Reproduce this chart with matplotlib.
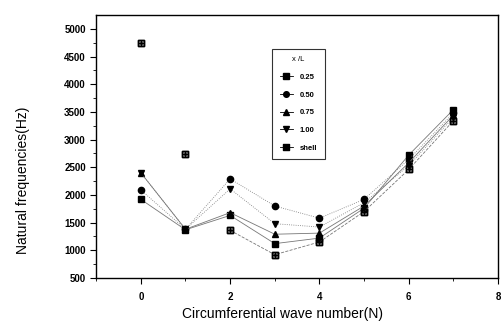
import numpy as np
import matplotlib
matplotlib.use("Agg")
import matplotlib.pyplot as plt

# circumferential wave number
N = [0, 1, 2, 3, 4, 5, 6, 7]

# natural frequencies (Hz) for each x/L position
f_025 = [1920, 1370, 1630, 1120, 1220, 1760, 2720, 3540]
f_050 = [2090, 1380, 2290, 1800, 1580, 1920, 2640, 3480]
f_075 = [2400, 1380, 1680, 1290, 1310, 1800, 2580, 3440]
f_100 = [2400, 1380, 2110, 1480, 1420, 1860, 2530, 3400]
f_shell = [4750, 2740, 1360, 920, 1150, 1700, 2460, 3340]

labels = ["0.25", "0.50", "0.75", "1.00", "shell"]
series = [f_025, f_050, f_075, f_100, f_shell]
markers = ["s", "o", "^", "v", "$\\boxplus$"]
styles = ["-", ":", "-", ":", "--"]

plt.rcParams['font.family'] = ['Liberation Sans', 'DejaVu Sans']

fig = plt.figure(figsize=(5.01, 3.27), dpi=100)
ax = fig.add_axes([0.192, 0.15, 0.802, 0.804])

for y, lab, m, ls in zip(series, labels, markers, styles):
    ms = 5 if m.startswith("$") else 4.5
    if lab == "shell":
        # shell modes at N=0 and N=1 stand alone, the curve starts at N=2
        ax.plot(N[:2], y[:2], linestyle="none", marker=m, markersize=ms,
                color="black")
        ax.plot(N[2:], y[2:], color="#777777", linestyle=ls, linewidth=0.6,
                marker=m, markersize=ms, markerfacecolor="black",
                markeredgecolor="black", label=lab)
    else:
        ax.plot(N, y, color="#777777", linestyle=ls, linewidth=0.6,
                marker=m, markersize=ms, markerfacecolor="black",
                markeredgecolor="black", label=lab)

ax.set_xlim(-1, 8)
ax.set_ylim(500, 5250)
ax.set_xticks([0, 2, 4, 6, 8])
ax.set_xticks([-1, 1, 3, 5, 7], minor=True)
ax.set_yticks(np.arange(500, 5001, 500))
ax.set_yticks(np.arange(750, 5250, 500), minor=True)
ax.tick_params(direction="out", labelsize=7, width=0.8, length=4)
ax.tick_params(axis="x", pad=6)
ax.tick_params(which="minor", direction="out", length=2, width=0.6)
for t in ax.get_xticklabels() + ax.get_yticklabels():
    t.set_fontweight("bold")
for s in ax.spines.values():
    s.set_linewidth(1.0)

ax.set_xlabel("Circumferential wave number(N)", fontsize=10)
ax.xaxis.set_label_coords(0.463, -0.112)
ax.set_ylabel("Natural frequencies(Hz)", fontsize=10)
ax.yaxis.set_label_coords(-0.165, 0.373)

leg = ax.legend(title="x /L", loc="upper left", bbox_to_anchor=(0.428, 0.886),
                fontsize=5.5, title_fontsize=5.5, frameon=True, fancybox=False,
                handlelength=1.8, labelspacing=1.35, borderpad=1.0,
                markerscale=0.9)
leg.get_frame().set_edgecolor("black")
leg.get_frame().set_linewidth(0.8)
for t in leg.get_texts():
    t.set_fontweight("bold")
for h in leg.legend_handles:
    h.set_linestyle("-")
    h.set_color("black")

fig.savefig("out.png", dpi=100)
